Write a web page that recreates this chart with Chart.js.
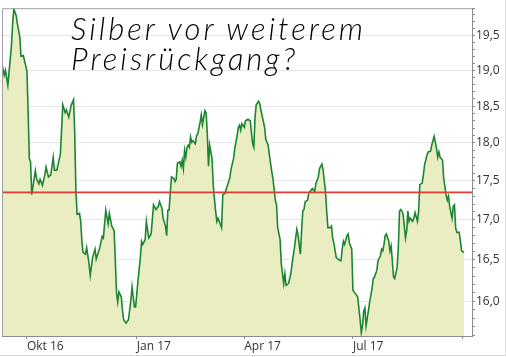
<!DOCTYPE html>
<html>
<head>
<meta charset="utf-8">
<script src="https://cdn.jsdelivr.net/npm/chart.js@4.4.0/dist/chart.umd.min.js"></script>
<style>
html,body{margin:0;padding:0;background:#fff;}
#wrap{position:relative;width:505px;height:355px;border-right:1px solid #d9d9d9;border-bottom:1px solid #d9d9d9;}
#c{display:block;}
#title{position:absolute;left:71px;top:13px;font-family:Lato,sans-serif;font-style:italic;font-weight:300;font-size:31px;line-height:30px;color:#000;white-space:nowrap;pointer-events:none;}
#title div{white-space:nowrap;}
</style>
</head>
<body>
<div id="wrap">
<canvas id="c" width="505" height="355"></canvas>
<div id="title"></div>
</div>
<script>
// ---- data ----
const titleLines = ['Silber vor weiterem', 'Preisrückgang?'];
const baseDate = '2016-10-01';            // day 0 of the x values
// trading days, as days since baseDate
const dayOffsets = [
 -21,-19,-18,-16,-13,-12,-11,-9,-8,-6,-5,-3,-2,0,1,2,3,4,7,8,10,11,13,15,16,18,20,22,23,25,28,29,30,32,33,35,37,38,39,40,
 41,42,44,45,46,47,49,50,52,53,55,57,58,61,63,64,66,68,69,71,73,74,75,76,77,79,80,81,83,85,87,88,90,91,93,95,96,97,99,100,
 102,104,106,108,110,111,113,114,116,117,118,119,121,123,124,125,126,128,129,130,131,132,133,134,135,136,137,138,139,141,142,143,145,146,147,149,150,151,152,153,
 155,156,157,158,159,160,162,163,164,166,167,169,170,171,173,174,176,177,178,179,180,182,183,185,187,188,189,190,191,192,194,195,196,199,200,202,203,205,206,208,
 209,210,212,213,215,216,217,219,221,222,224,226,227,229,230,231,232,233,235,236,238,239,241,242,244,245,247,248,250,251,252,254,255,256,257,259,261,263,264,265,
 266,268,269,270,272,273,275,277,279,280,281,282,283,284,286,287,289,290,291,293,294,296,297,298,299,300,301,303,304,305,307,308,310,311,312,313,314,315,317,318,
 319,320,321,323,324,325,327,328,329,331,332,333,335,336,338,339,341,342,343,344,345,346,348,349,351,352,353,354,356,357,358,359,360,362,363,364,366
];
// silver price, USD per ounce
const prices = [
 19.10,18.93,19.00,18.79,19.35,19.67,19.89,19.79,19.67,19.48,19.20,19.21,19.13,18.99,18.41,17.79,17.75,17.32,17.63,17.53,17.46,17.52,17.44,17.58,17.68,17.55,17.58,17.81,17.64,17.64,17.85,18.18,18.52,18.41,18.45,18.35,18.51,18.55,18.59,18.14,
 17.36,17.07,17.08,16.98,16.73,16.59,16.57,16.65,16.45,16.31,16.53,16.63,16.51,16.65,16.79,16.77,17.12,16.95,17.08,16.92,16.86,16.49,16.10,15.99,16.11,16.05,15.89,15.78,15.74,15.78,16.01,16.17,15.93,15.93,16.25,16.53,16.73,16.69,16.75,16.98,
 16.77,16.82,17.19,17.13,17.17,17.23,17.15,17.02,16.92,16.80,17.12,17.12,17.55,17.53,17.49,17.52,17.73,17.75,17.69,17.77,17.66,17.90,17.81,17.94,17.97,17.94,18.08,18.01,18.03,17.99,18.10,18.12,18.28,18.38,18.25,18.44,18.41,18.14,17.69,17.97,
 17.79,17.45,17.27,17.11,16.98,17.02,16.94,16.90,17.32,17.34,17.40,17.49,17.55,17.66,17.79,17.92,18.10,18.21,18.24,18.17,18.26,18.21,18.30,18.32,18.30,18.14,17.99,17.94,18.35,18.52,18.57,18.53,18.44,18.21,18.05,17.97,17.84,17.62,17.53,17.25,
 17.19,16.90,16.75,16.45,16.21,16.33,16.19,16.21,16.33,16.45,16.65,16.88,16.81,16.57,16.86,17.11,17.13,17.23,17.25,17.34,17.38,17.40,17.36,17.47,17.55,17.66,17.72,17.64,17.36,17.11,16.90,16.90,16.92,16.77,16.71,16.53,16.50,16.49,16.63,16.73,
 16.69,16.80,16.82,16.71,16.63,16.13,16.09,16.05,15.78,15.63,15.71,15.88,15.92,15.71,15.89,15.99,16.15,16.27,16.29,16.37,16.49,16.55,16.63,16.61,16.69,16.80,16.82,16.73,16.61,16.67,16.29,16.27,16.41,16.65,17.11,17.13,17.11,17.07,16.77,16.86,
 17.11,16.98,17.02,16.98,17.02,17.09,16.98,17.11,17.45,17.47,17.58,17.71,17.84,17.88,17.89,17.97,18.09,18.01,17.92,17.81,17.88,17.81,17.77,17.53,17.32,17.25,17.30,17.17,17.02,17.17,17.19,16.90,16.84,16.84,16.73,16.61,16.59
];
const resistanceLevel = 17.35;
const xTickDates = ['2016-10-01','2017-01-01','2017-04-01','2017-07-01','2017-10-01'];
const xTickLabels = ['Okt 16','Jan 17','Apr 17','Jul 17',''];
const xRange = [-20.9, 372.7];           // days since baseDate
const yRange = [15.59, 19.9];
const yLabelStep = 0.5;
const yMinorStep = 0.1;

// ---- title (fit the first line to the reference width) ----
const titleEl = document.getElementById('title');
titleLines.forEach(t => { const d = document.createElement('div'); d.textContent = t; titleEl.appendChild(d); });
(function fitTitle() {
  const first = titleEl.firstChild;
  const w = first.getBoundingClientRect().width;
  if (w > 0) {
    const extra = (305 - w) / (titleLines[0].length - 1);
    titleEl.style.letterSpacing = Math.max(-1, Math.min(3, extra)).toFixed(2) + 'px';
  }
})();

// ---- chart ----
const DAY = 86400000;
const dayOf = s => Math.round((Date.parse(s) - Date.parse(baseDate)) / DAY);
const xTickDays = xTickDates.map(dayOf);

const seriesPoints = dayOffsets.map((d, i) => ({x: d, y: prices[i]}));
const levelPoints = [{x: xRange[0], y: resistanceLevel}, {x: xRange[1], y: resistanceLevel}];

const isMajor = v => Math.abs(Math.round(v / yLabelStep) * yLabelStep - v) < 1e-6;

const framePlugin = {
  id: 'frame',
  afterDatasetsDraw(chart) {
    const {ctx, chartArea: a} = chart;
    ctx.save();
    ctx.strokeStyle = '#a0a0a0';
    ctx.lineWidth = 1;
    ctx.beginPath();
    ctx.moveTo(a.left + 0.5, a.bottom);
    ctx.lineTo(a.left + 0.5, a.top + 0.5);
    ctx.lineTo(a.right, a.top + 0.5);
    ctx.stroke();
    ctx.restore();
  }
};

new Chart(document.getElementById('c'), {
  type: 'line',
  data: {
    datasets: [
      {
        data: levelPoints,
        borderColor: '#e23b36',
        borderWidth: 1.6,
        pointRadius: 0,
        fill: false,
        order: 0
      },
      {
        data: seriesPoints,
        borderColor: '#1c8532',
        borderWidth: 1.6,
        backgroundColor: '#eaedc2',
        pointRadius: 0,
        fill: 'start',
        tension: 0,
        order: 1
      }
    ]
  },
  options: {
    responsive: false,
    animation: false,
    devicePixelRatio: 1,
    layout: {padding: {top: 4, left: 2, right: 0, bottom: 0}},
    plugins: {legend: {display: false}, tooltip: {enabled: false}, title: {display: false}},
    scales: {
      x: {
        type: 'linear',
        min: xRange[0],
        max: xRange[1],
        afterBuildTicks: s => { s.ticks = xTickDays.map(v => ({value: v})); },
        afterFit: s => { s.height = 19; },
        grid: {display: true, color: 'rgba(0,0,0,0)', drawOnChartArea: false, drawTicks: true, tickLength: 3, tickColor: '#8c8c8c'},
        border: {display: true, color: '#8c8c8c', width: 1},
        ticks: {
          autoSkip: false,
          maxRotation: 0,
          align: 'start',
          padding: 0,
          color: '#333',
          font: {family: '"Open Sans", sans-serif', size: 12},
          callback: (v, i) => xTickLabels[i]
        }
      },
      y: {
        type: 'logarithmic',
        position: 'right',
        min: yRange[0],
        max: yRange[1],
        afterBuildTicks: s => {
          const t = [];
          const n0 = Math.ceil(yRange[0] / yMinorStep - 1e-6), n1 = Math.floor(yRange[1] / yMinorStep + 1e-6);
          for (let n = n0; n <= n1; n++) t.push({value: +(n * yMinorStep).toFixed(1)});
          s.ticks = t;
        },
        afterFit: s => { s.width = 33; },
        grid: {
          color: c => (c.tick && isMajor(c.tick.value)) ? '#e6e6e6' : 'rgba(0,0,0,0)',
          lineWidth: 1,
          drawTicks: true,
          tickLength: 3,
          tickColor: '#8c8c8c'
        },
        border: {display: true, color: '#8c8c8c', width: 1},
        ticks: {
          autoSkip: false,
          padding: 1,
          color: '#333',
          font: {family: '"Open Sans", sans-serif', size: 12},
          callback: v => isMajor(v) ? v.toFixed(1).replace('.', ',') : ''
        }
      }
    }
  },
  plugins: [framePlugin]
});
</script>
</body>
</html>
